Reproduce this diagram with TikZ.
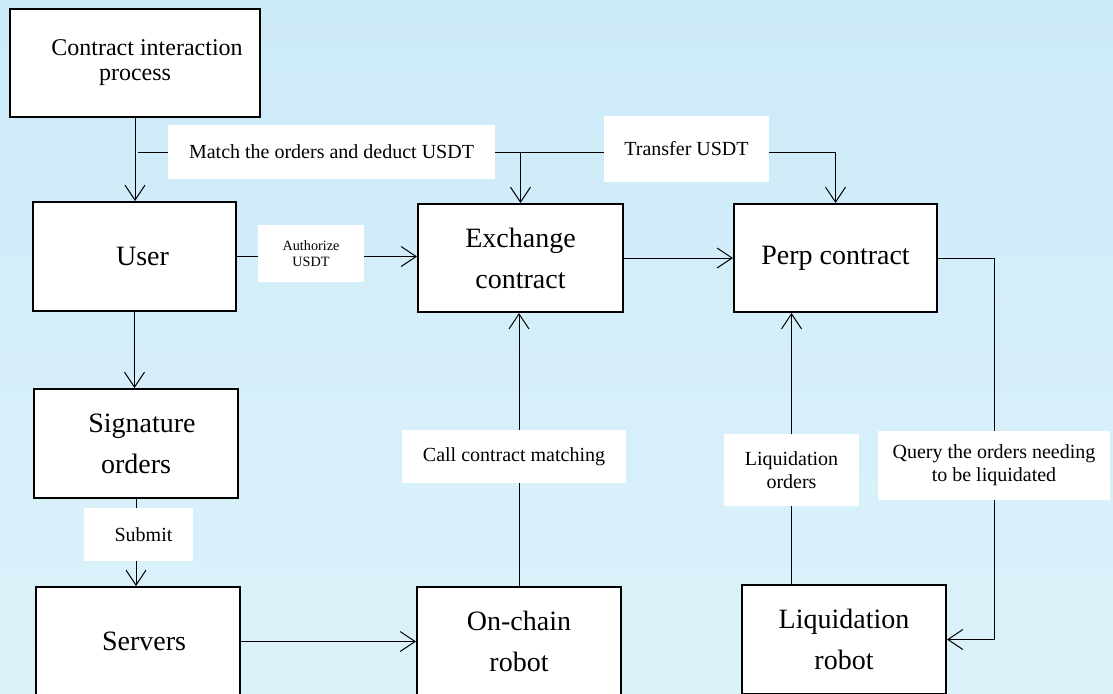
\documentclass[tikz,border=0pt]{standalone}
\usepackage{fontspec}
\setmainfont{Liberation Serif}
\usetikzlibrary{arrows.meta,positioning}
\definecolor{bgtop}{RGB}{205,234,249}
\definecolor{bgbot}{RGB}{220,242,250}

\begin{document}
\begin{tikzpicture}[x=0.5pt,y=-0.5pt,line width=0.5pt,
    >={Straight Barb[length=7.5pt,width=10pt]},
    sz/.style 2 args={minimum width=#1*0.5pt,minimum height=#2*0.5pt},
    box/.style={draw,line width=1pt,fill=white,inner sep=0pt,align=center,
      font=\fontsize{14}{20.5}\selectfont},
    lbl/.style={fill=white,inner sep=0pt,align=center,
      font=\fontsize{10}{11.5}\selectfont}]
  \useasboundingbox (0,0) rectangle (1113,693);
  \clip (0,0) rectangle (1113,693);
  \shade[top color=bgtop,bottom color=bgbot] (0,0) rectangle (1113,693);

  % boxes
  \node[box,sz={250}{108},font=\fontsize{12}{12.5}\selectfont] (proc) at (135,63)
    {\hspace{12pt}Contract interaction\\process};
  \node[box,sz={203}{109}] (user) at (134.5,256.5) {\hspace{8pt}User};
  \node[box,sz={204}{109}] (sig) at (136,443.5) {\hspace{6pt}Signature\\orders};
  \node[box,sz={204}{109}] (serv) at (138,641.5) {\hspace{6pt}Servers};
  \node[box,sz={205}{108}] (exch) at (520.5,258) {Exchange\\contract};
  \node[box,sz={203}{108}] (perp) at (835.5,258) {Perp contract};
  \node[box,sz={204}{109}] (chain) at (519,641.5) {On-chain\\robot};
  \node[box,sz={204}{109}] (liq) at (844,639.5) {Liquidation\\robot};

  % labels
  \coordinate (mpos) at (331.5,152);
  \coordinate (tpos) at (686.5,149);
  \coordinate (apos) at (311,253.5);
  \coordinate (spos) at (138.5,534.5);
  \coordinate (cpos) at (514,456.5);
  \coordinate (lpos) at (791.5,470);
  \coordinate (qpos) at (994,465.5);

  % connectors
  \coordinate (m0) at (138,152);
  \draw[->] (proc.south) -- (proc.south |- user.north);
  \draw[->] (m0) -| (perp.north);
  \draw[->] (exch.north |- m0) -- (exch.north);
  \draw[->] (user.east) -- (user.east -| exch.west);
  \draw[->] (exch) -- (perp);
  \draw[->] (user.south) -- (user.south |- sig.north);
  \draw[->] (sig.south) -- (sig.south |- serv.north);
  \draw[->] (serv.east |- chain.west) -- (chain.west);
  \draw[->] (chain.north) -- (chain.north |- exch.south);
  \draw[->] (liq.north -| lpos) -- (perp.south -| lpos);
  \draw[->] (perp.east) -| (qpos) |- (liq.east);

  \node[lbl,sz={327}{54}] (match) at (mpos) {Match the orders and deduct USDT};
  \node[lbl,sz={165}{66}] (transfer) at (tpos) {Transfer USDT};
  \node[lbl,sz={106}{57},font=\fontsize{7.1}{8.3}\selectfont] (auth) at (apos)
    {Authorize\\USDT};
  \node[lbl,sz={109}{53}] (submit) at (spos) {\hspace{5pt}Submit};
  \node[lbl,sz={224}{53}] (call) at (cpos) {Call contract matching};
  \node[lbl,sz={135}{72}] (liqord) at (lpos) {Liquidation\\orders};
  \node[lbl,sz={232}{69}] (query) at (qpos) {Query the orders needing\\to be liquidated};
\end{tikzpicture}
\end{document}
